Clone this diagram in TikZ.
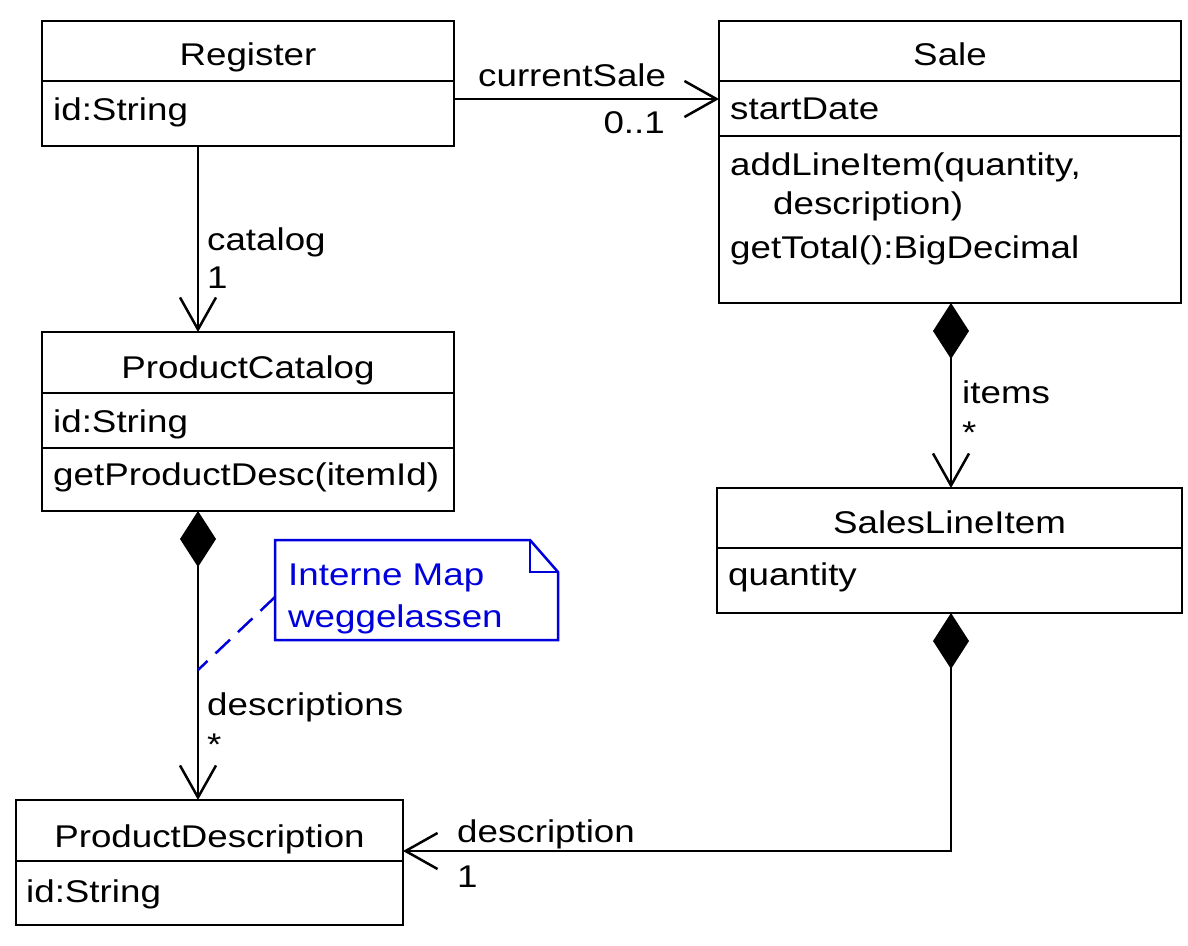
\documentclass[tikz,border=0pt]{standalone}
\usepackage{fontspec}
\setmainfont{Liberation Sans}[FakeStretch=1.17]
\usetikzlibrary{arrows.meta,calc}
\definecolor{notecol}{RGB}{0,0,220}
\begin{document}
\begin{tikzpicture}[x=1pt,y=-1pt,
  box/.style={draw, line width=2.5pt, inner sep=0pt, outer sep=0pt},
  txt/.style={inner sep=0pt, anchor=base west, font=\fontsize{31.4}{36}\selectfont},
  ttl/.style={inner sep=0pt, anchor=base, font=\fontsize{31.4}{36}\selectfont},
  conn/.style={line width=2.5pt},
  assoc/.style={conn, -{Straight Barb[length=32pt,width=36pt]}},
  compo/.style={conn, {Diamond[length=56pt,width=36pt]}-{Straight Barb[length=32pt,width=36pt]}},
  notebox/.style={draw=notecol, line width=2.5pt, line join=miter},
  notelink/.style={draw=notecol, line width=2.5pt, dash pattern=on 20pt off 11pt}
]
\useasboundingbox (0,0) rectangle (1188,945);

% class boxes
\node[box, minimum width=412, minimum height=125] (reg) at (248,83.5) {};
\node[box, minimum width=462, minimum height=282] (sale) at (950,162) {};
\node[box, minimum width=412, minimum height=179] (cat) at (248,421.5) {};
\node[box, minimum width=465, minimum height=125] (sli) at (949.5,550.5) {};
\node[box, minimum width=387, minimum height=125] (pd) at (209.5,862.5) {};

% dividers
\draw[conn] (reg.west |- 0,81) -- (reg.east |- 0,81);
\draw[conn] (sale.west |- 0,81) -- (sale.east |- 0,81);
\draw[conn] (sale.west |- 0,136) -- (sale.east |- 0,136);
\draw[conn] (cat.west |- 0,393) -- (cat.east |- 0,393);
\draw[conn] (cat.west |- 0,448) -- (cat.east |- 0,448);
\draw[conn] (sli.west |- 0,548) -- (sli.east |- 0,548);
\draw[conn] (pd.west |- 0,861) -- (pd.east |- 0,861);

% texts
\node[ttl] (regT) at (248,65) {Register};
\node[txt] (regA) at (53,120) {id:String};
\node[ttl] (saleT) at (950,65) {Sale};
\node[txt] (saleA) at (730,119) {startDate};
\node[txt] (saleM1) at (730,175) {addLineItem(quantity,};
\node[txt] (saleM2) at (773,214) {description)};
\node[txt] (saleM3) at (730,258) {getTotal():BigDecimal};
\node[ttl] (catT) at (248,378) {ProductCatalog};
\node[txt] (catA) at (53,432) {id:String};
\node[txt] (catM) at (53,485) {getProductDesc(itemId)};
\node[ttl] (sliT) at (949.5,533) {SalesLineItem};
\node[txt] (sliA) at (728,585) {quantity};
\node[ttl] (pdT) at (209.5,847) {ProductDescription};
\node[txt] (pdA) at (26,902) {id:String};

% connectors
\draw[assoc] (reg.east |- 0,99) -- (sale.west |- 0,99);
\draw[assoc] (reg.south -| 198,0) -- (cat.north -| 198,0);
\draw[compo] (sale.south -| 951,0) -- (sli.north -| 951,0);
\draw[compo] (cat.south -| 198,0) -- (pd.north -| 198,0);
\draw[compo] (sli.south -| 951,0) |- (pd.east |- 0,851);

% connector labels
\node[txt] (lCur) at (478,86) {currentSale};
\node[txt, anchor=base east] (lCurM) at (665,133) {0..1};
\node[txt] (lCat) at (207,250) {catalog};
\node[txt] (lCatM) at (207,288) {1};
\node[txt] (lItems) at (962,403) {items};
\node[txt] (lItemsM) at (962,443) {*};
\node[txt] (lDescs) at (207,715) {descriptions};
\node[txt] (lDescsM) at (207,755) {*};
\node[txt] (lDesc) at (457,842) {description};
\node[txt] (lDescM) at (457,887) {1};

% note
\node[minimum width=283, minimum height=100, inner sep=0pt, outer sep=0pt] (note) at (416.5,590) {};
\draw[notebox] (note.north west) -- ($(note.north east)+(-28,0)$) -- ($(note.north east)+(0,32)$) -- (note.south east) -- (note.south west) -- cycle;
\draw[notebox] ($(note.north east)+(-28,0)$) -- ($(note.north east)+(-28,32)$) -- ($(note.north east)+(0,32)$);
\node[txt, text=notecol] (noteL1) at (288,585) {Interne Map};
\node[txt, text=notecol] (noteL2) at (288,627) {weggelassen};
\coordinate (nc) at (198,670);
\draw[notelink] (note.west |- 0,597) -- (nc);
\end{tikzpicture}
\end{document}
